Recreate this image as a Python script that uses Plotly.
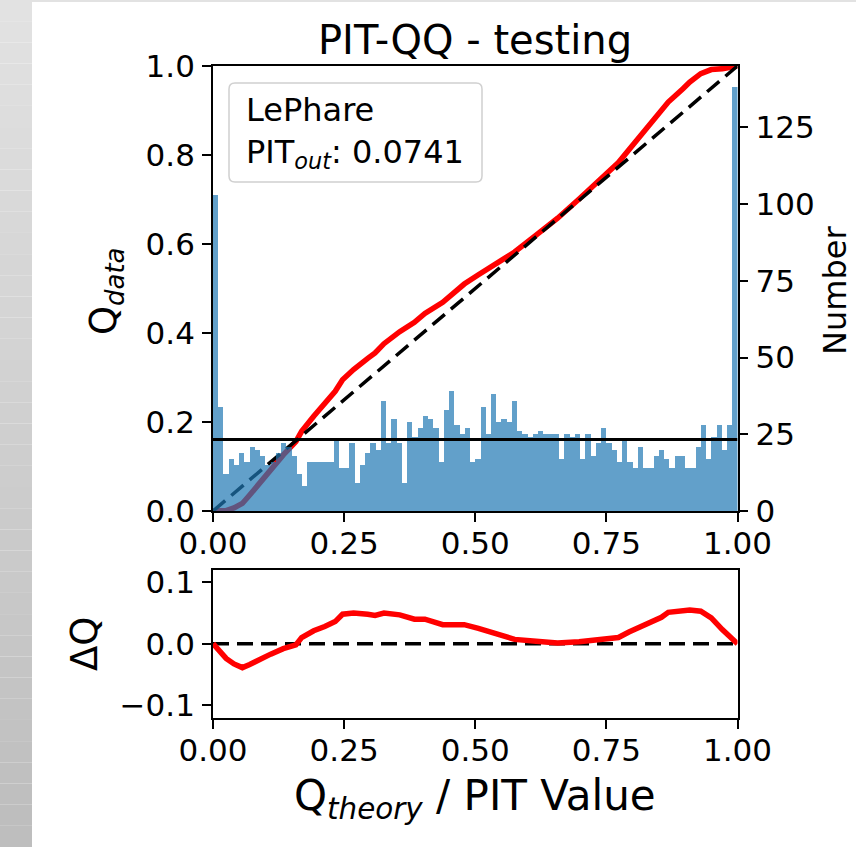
import plotly.graph_objects as go

# ---------------- data ----------------
counts = [103, 34, 12, 17, 15, 19, 16, 21, 20, 18, 15, 16, 19, 22, 21, 18, 12, 8, 16, 16,
          16, 16, 16, 23, 14, 14, 22, 9, 15, 19, 22, 20, 36, 22, 30, 22, 9, 29, 24, 27,
          31, 30, 27, 16, 33, 39, 28, 25, 27, 16, 17, 34, 25, 38, 29, 30, 29, 36, 26, 25,
          24, 25, 26, 25, 25, 25, 17, 25, 24, 25, 17, 25, 18, 22, 27, 22, 20, 16, 23, 16,
          14, 21, 14, 14, 18, 20, 17, 14, 18, 18, 14, 14, 21, 28, 17, 24, 28, 20, 28, 138]
n_bins = 100
mean_count = 23.3

q_theory = [0.0, 0.012, 0.025, 0.04, 0.056, 0.07, 0.09, 0.11, 0.134, 0.158,
            0.169, 0.192, 0.213, 0.233, 0.247, 0.268, 0.295, 0.309, 0.326, 0.356,
            0.384, 0.404, 0.438, 0.479, 0.506, 0.54, 0.575, 0.616, 0.657, 0.698,
            0.739, 0.773, 0.793, 0.827, 0.855, 0.868, 0.896, 0.909, 0.93, 0.95,
            0.971, 1.0]
q_data = [0.0, 0.0, 0.001, 0.007, 0.017, 0.036, 0.065, 0.093, 0.126, 0.156,
          0.179, 0.213, 0.241, 0.269, 0.295, 0.318, 0.343, 0.355, 0.376, 0.403,
          0.424, 0.444, 0.469, 0.51, 0.531, 0.556, 0.582, 0.62, 0.658, 0.701,
          0.745, 0.783, 0.812, 0.859, 0.898, 0.919, 0.949, 0.964, 0.983, 0.992,
          0.994, 1.0]

x_ticks = [0.0, 0.25, 0.5, 0.75, 1.0]
x_ticktext = ["0.00", "0.25", "0.50", "0.75", "1.00"]
y_ticks = [0.0, 0.2, 0.4, 0.6, 0.8, 1.0]
y2_ticks = [0, 25, 50, 75, 100, 125]
dq_ticks = [-0.1, 0.0, 0.1]
dq_ticktext = ["\u22120.1", "0.0", "0.1"]

title_text = "PIT-QQ - testing"
legend_text = "LePhare<br>PIT<sub><i>out</i></sub>: 0.0741"

# ---------------- derived ----------------
bin_w = 1.0 / n_bins
bin_centers = [(i + 0.5) * bin_w for i in range(n_bins)]
delta_q = [d - t for d, t in zip(q_data, q_theory)]

W, H = 856, 847
def px(x):
    return x / W
def py(y):
    return (H - y) / H

FONT = "DejaVu Sans"
TICK = 31

fig = go.Figure()

# main panel lines (drawn under the histogram)
fig.add_trace(go.Scatter(x=q_theory, y=q_data, mode="lines",
                         line=dict(color="red", width=5.5), xaxis="x", yaxis="y",
                         showlegend=False))
fig.add_trace(go.Scatter(x=[0, 1], y=[0, 1], mode="lines",
                         line=dict(color="black", width=3.5, dash="16px,8px"),
                         xaxis="x", yaxis="y", showlegend=False))
# histogram on twin axis
fig.add_trace(go.Bar(x=bin_centers, y=counts, width=bin_w,
                     marker=dict(color="rgba(31,119,180,0.7)", line=dict(width=0)),
                     xaxis="x", yaxis="y2", showlegend=False))
fig.add_trace(go.Scatter(x=[0, 1], y=[mean_count, mean_count], mode="lines",
                         line=dict(color="black", width=2.8),
                         xaxis="x", yaxis="y2", showlegend=False))
# bottom panel
fig.add_trace(go.Scatter(x=[0, 1], y=[0, 0], mode="lines",
                         line=dict(color="black", width=3.5, dash="16px,8px"),
                         xaxis="x2", yaxis="y3", showlegend=False))
fig.add_trace(go.Scatter(x=q_theory, y=delta_q, mode="lines",
                         line=dict(color="red", width=5.5),
                         xaxis="x2", yaxis="y3", showlegend=False))

axis_common = dict(showline=True, linecolor="black", linewidth=1.8,
                   ticks="outside", ticklen=9, tickwidth=1.8, tickcolor="black",
                   showgrid=False, zeroline=False, automargin=False,
                   tickfont=dict(family=FONT, size=TICK, color="black"))
xstand = dict(ticklabelstandoff=-5)
ystand = dict(ticklabelstandoff=1)

xdom = [px(213), px(737.5)]
fig.update_layout(
    width=W, height=H,
    margin=dict(l=0, r=0, t=0, b=0, pad=0, autoexpand=False),
    paper_bgcolor="white", plot_bgcolor="white",
    bargap=0,
    showlegend=False,
    xaxis=dict(domain=xdom, range=[0, 1], anchor="y", tickvals=x_ticks,
               ticktext=x_ticktext, mirror=True, **axis_common, **xstand),
    yaxis=dict(domain=[py(511), py(66)], range=[0, 1], anchor="x",
               tickvals=y_ticks, tickformat=".1f", **axis_common, **ystand),
    yaxis2=dict(range=[0, 145], overlaying="y", side="right", anchor="x",
                tickvals=y2_ticks, **axis_common, **ystand),
    xaxis2=dict(domain=xdom, range=[0, 1], anchor="y3", tickvals=x_ticks,
                ticktext=x_ticktext, mirror=True, **axis_common, **xstand),
    yaxis3=dict(domain=[py(718), py(570)], range=[-0.121, 0.12], anchor="x2",
                tickvals=dq_ticks, ticktext=dq_ticktext, mirror=True,
                **axis_common, **ystand),
)

shapes = []
# gray gradient strip on the left and thin top line (page background)
n_bands = 40
for i in range(n_bands):
    g = int(226 - (226 - 190) * i / (n_bands - 1))
    shapes.append(dict(type="rect", xref="paper", yref="paper",
                       x0=0, x1=px(32), y0=1 - (i + 1) / n_bands, y1=1 - i / n_bands,
                       fillcolor=f"rgb({g},{g},{g})", line=dict(width=0), layer="below"))
shapes.append(dict(type="rect", xref="paper", yref="paper", x0=0, x1=1,
                   y0=py(2), y1=1, fillcolor="rgb(226,226,226)", line=dict(width=0),
                   layer="below"))
# rounded legend box
x0, x1, y0, y1 = px(229), px(482), py(182), py(83)
rx, ry = px(6), 6 / H
path = (f"M {x0+rx},{y0} L {x1-rx},{y0} Q {x1},{y0} {x1},{y0+ry} "
        f"L {x1},{y1-ry} Q {x1},{y1} {x1-rx},{y1} L {x0+rx},{y1} "
        f"Q {x0},{y1} {x0},{y1-ry} L {x0},{y0+ry} Q {x0},{y0} {x0+rx},{y0} Z")
shapes.append(dict(type="path", xref="paper", yref="paper", path=path,
                   fillcolor="rgba(255,255,255,0.8)", line=dict(color="#d0d0d0", width=1.5),
                   layer="above"))
fig.update_layout(shapes=shapes)

annotations = [
    dict(text=title_text, x=px(475), y=py(40), xref="paper", yref="paper",
         xanchor="center", yanchor="middle", showarrow=False,
         font=dict(family=FONT, size=40, color="black")),
    dict(text=legend_text, x=px(244), y=py(132), xref="paper", yref="paper",
         xanchor="left", yanchor="middle", align="left", showarrow=False,
         font=dict(family=FONT, size=32, color="black")),
    dict(text="Q<sub><i>data</i></sub>", x=px(106), y=py(292), xref="paper", yref="paper",
         xanchor="center", yanchor="middle", textangle=-90, showarrow=False,
         font=dict(family=FONT, size=37, color="black")),
    dict(text="\u0394Q", x=px(84), y=py(644), xref="paper", yref="paper",
         xanchor="center", yanchor="middle", textangle=-90, showarrow=False,
         font=dict(family=FONT, size=37, color="black")),
    dict(text="Number", x=px(835), y=py(291), xref="paper", yref="paper",
         xanchor="center", yanchor="middle", textangle=-90, showarrow=False,
         font=dict(family=FONT, size=32, color="black")),
    dict(text="Q<sub><i>theory</i></sub> / PIT Value", x=px(475), y=py(798),
         xref="paper", yref="paper", xanchor="center", yanchor="middle",
         showarrow=False, font=dict(family=FONT, size=42, color="black")),
]
fig.update_layout(annotations=annotations)

fig.write_html("out.html")
